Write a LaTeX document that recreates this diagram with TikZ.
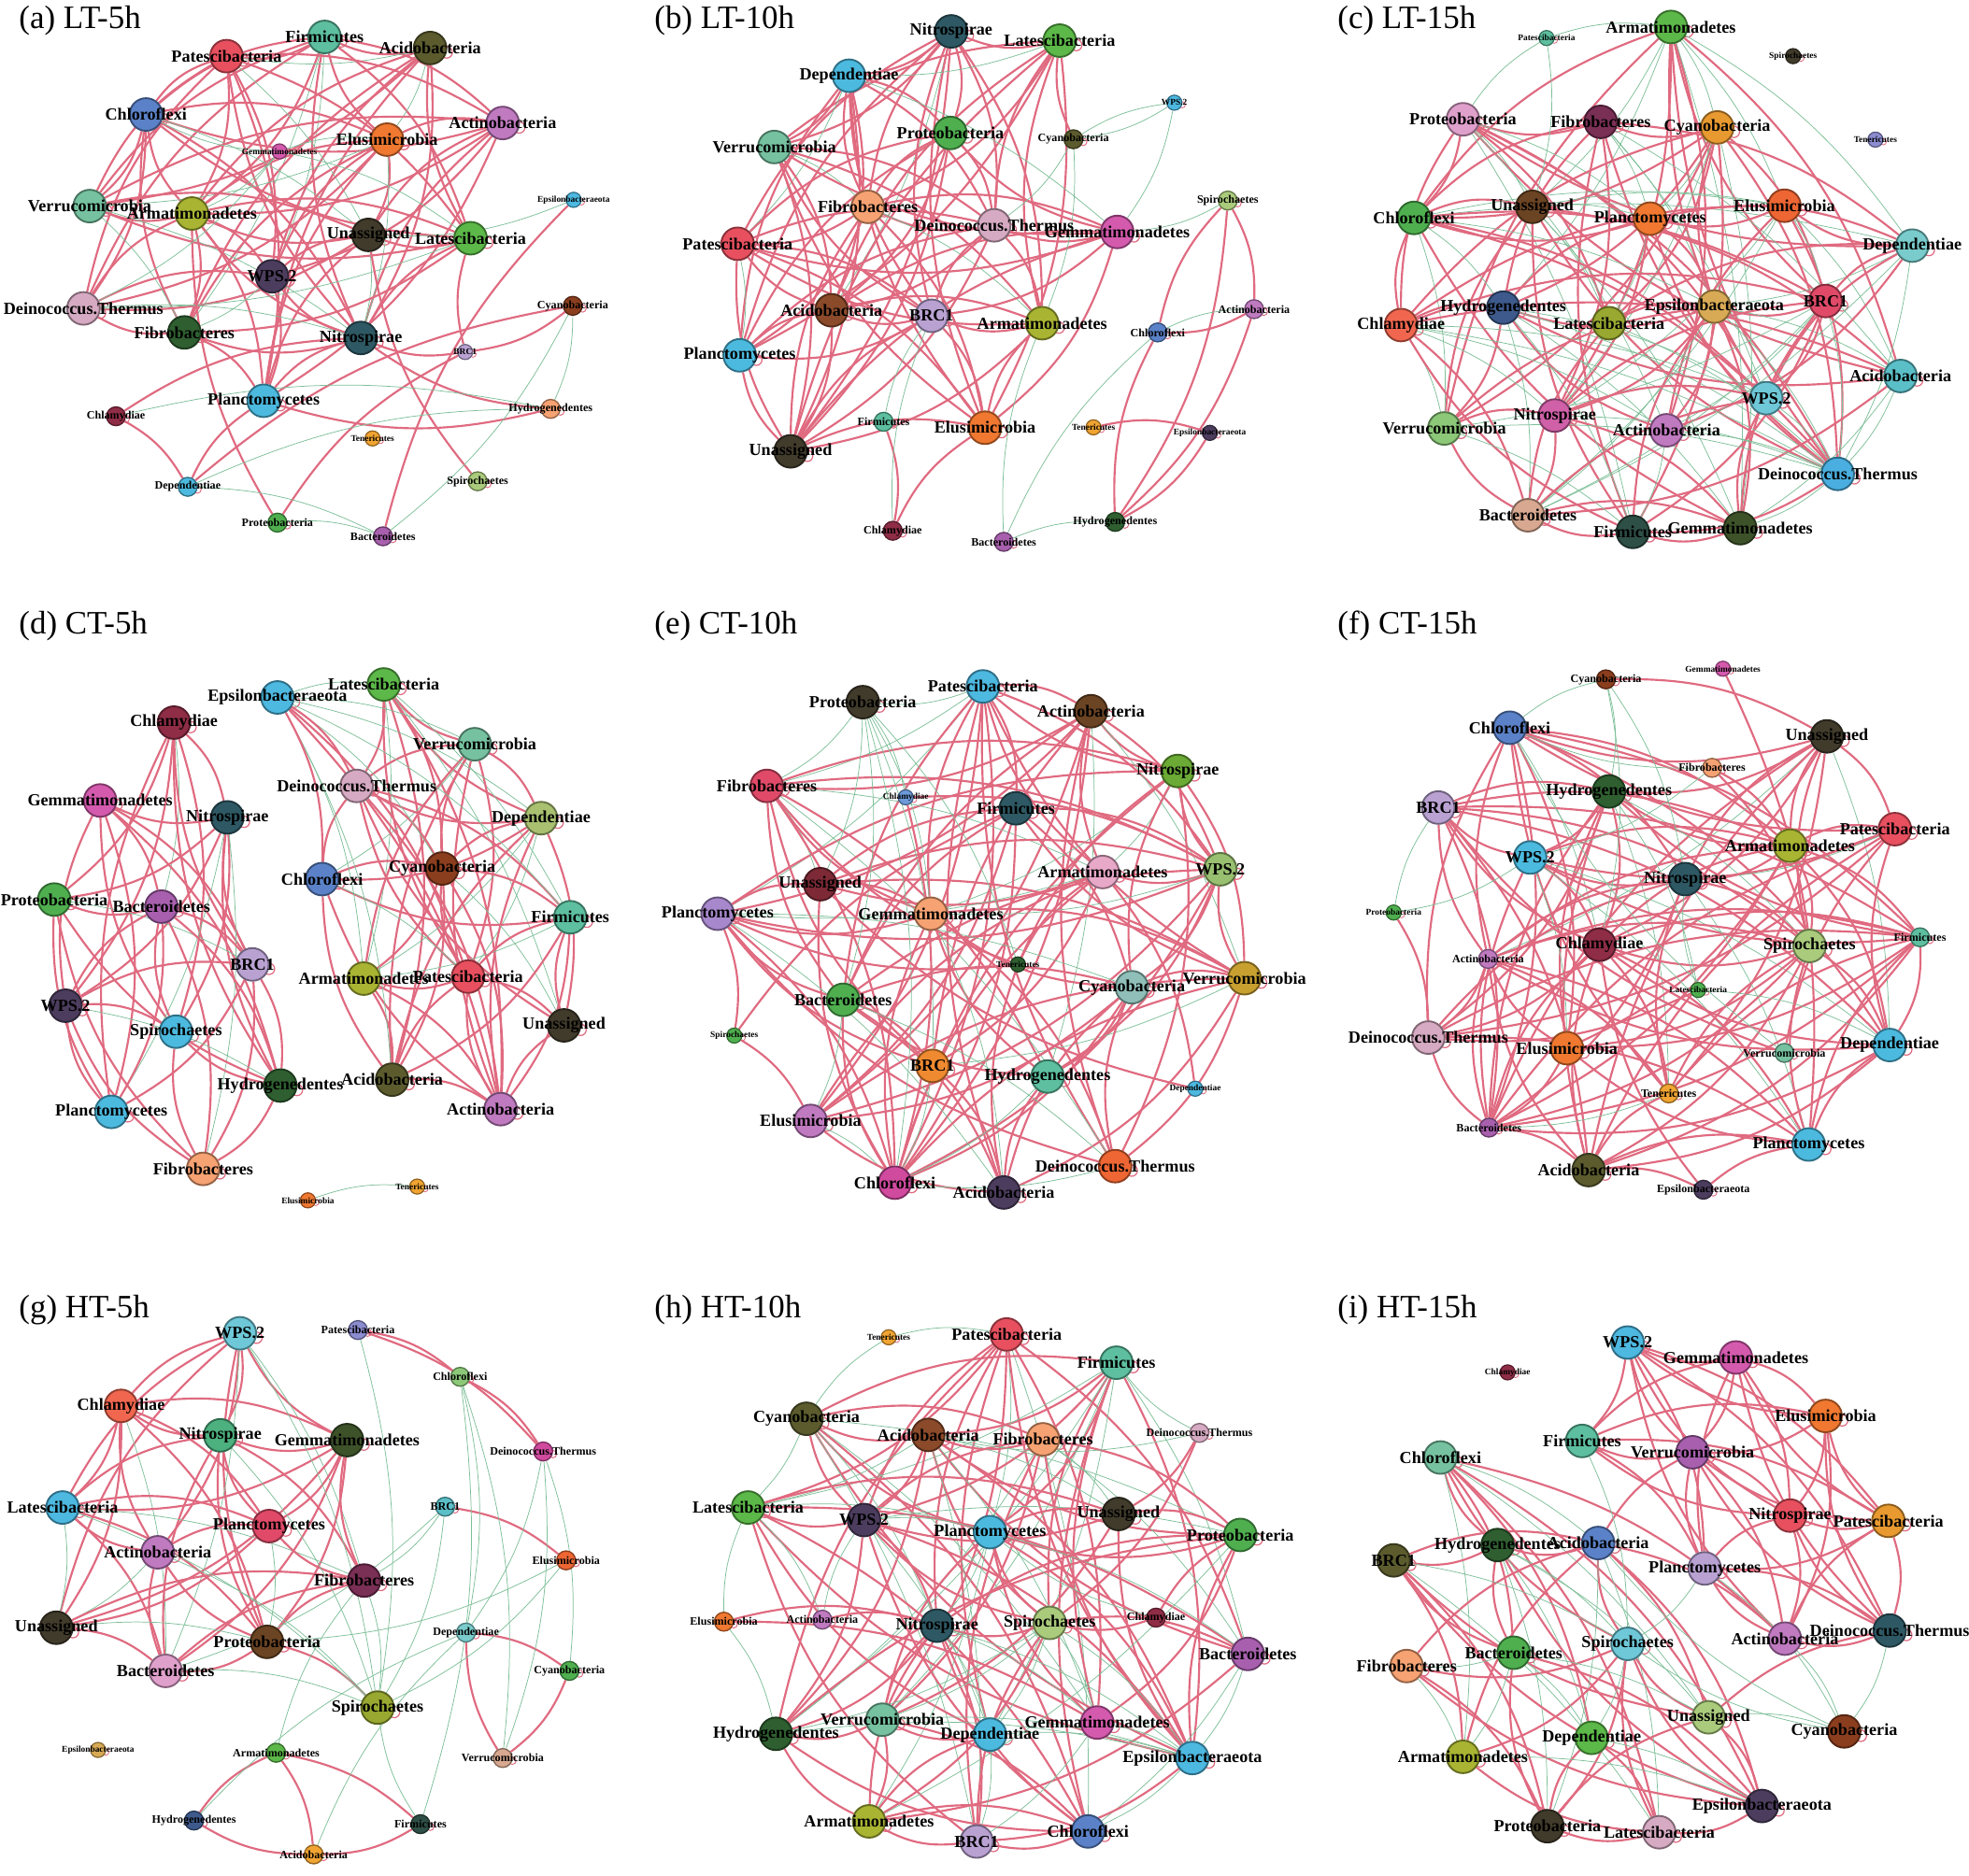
\documentclass[tikz,border=0pt]{standalone}
\usepackage{fontspec}
\setmainfont{Liberation Serif}
\pgfdeclarelayer{bg}\pgfdeclarelayer{edges}\pgfdeclarelayer{lbl}
\pgfsetlayers{bg,edges,main,lbl}
\definecolor{cRed}{HTML}{E8505F}
\definecolor{cTeal}{HTML}{5DBF9F}
\definecolor{cOliveD}{HTML}{5B5B2E}
\definecolor{cBlue}{HTML}{5B82C8}
\definecolor{cOrchid}{HTML}{C07AC0}
\definecolor{cOrange}{HTML}{F07830}
\definecolor{cMagenta}{HTML}{D45AAE}
\definecolor{cAqua}{HTML}{76C2A0}
\definecolor{cOliveY}{HTML}{A8B432}
\definecolor{cDBrown}{HTML}{413B2B}
\definecolor{cGreen}{HTML}{5CB848}
\definecolor{cDPurple}{HTML}{4C3D5E}
\definecolor{cSky}{HTML}{4DB8E0}
\definecolor{cPalePink}{HTML}{D6AAC2}
\definecolor{cDGreen}{HTML}{2F5F30}
\definecolor{cSlate}{HTML}{2E5964}
\definecolor{cBrown}{HTML}{8B3E1E}
\definecolor{cLav}{HTML}{B9A2D2}
\definecolor{cCyan}{HTML}{4CBADF}
\definecolor{cMaroon}{HTML}{8F2D46}
\definecolor{cPeach}{HTML}{F6A272}
\definecolor{cGold}{HTML}{F0A432}
\definecolor{cLGreen}{HTML}{AACB7C}
\definecolor{cPGreen}{HTML}{4FAF4F}
\definecolor{cPurple}{HTML}{A860AE}
\definecolor{cMBrown}{HTML}{8B4A2A}
\definecolor{cLavBlue}{HTML}{8C8CD0}
\definecolor{cPink}{HTML}{E0A0CC}
\definecolor{cWine}{HTML}{7A2F55}
\definecolor{cAmber}{HTML}{E89A30}
\definecolor{cChoc}{HTML}{6B4423}
\definecolor{cVerm}{HTML}{EE6633}
\definecolor{cTealL}{HTML}{7ACCCC}
\definecolor{cNavy}{HTML}{3E5A8C}
\definecolor{cTan}{HTML}{D8AA55}
\definecolor{cCrimson}{HTML}{E04A68}
\definecolor{cOliveG}{HTML}{98A830}
\definecolor{cTealB}{HTML}{5BBFC8}
\definecolor{cCyanL}{HTML}{6EC8D8}
\definecolor{cMagPink}{HTML}{D060A8}
\definecolor{cLtGreen}{HTML}{8CC878}
\definecolor{cSkyB}{HTML}{4AAFE0}
\definecolor{cTanPink}{HTML}{D8A890}
\definecolor{cDTeal}{HTML}{2E4F45}
\definecolor{cDOlive}{HTML}{3D5229}
\definecolor{cRedOr}{HTML}{F0664F}
\definecolor{cOlvGrn}{HTML}{A8C070}
\definecolor{cLeaf}{HTML}{6AAA35}
\definecolor{cCornf}{HTML}{6C9AD8}
\definecolor{cPinkL}{HTML}{E8A8C8}
\definecolor{cSage}{HTML}{98C070}
\definecolor{cWineR}{HTML}{7D2A36}
\definecolor{cLavP}{HTML}{A888CC}
\definecolor{cGoldD}{HTML}{C8A030}
\definecolor{cGreyT}{HTML}{8FBFB8}
\definecolor{cOrangeL}{HTML}{F08A30}
\definecolor{cDeepMag}{HTML}{D04A9E}
\definecolor{cJade}{HTML}{4DB07F}
\definecolor{cEdgeR}{HTML}{E06A80}
\definecolor{cEdgeG}{HTML}{7DBF98}
\tikzset{
 nA/.style={circle,minimum size=26pt,inner sep=0pt,line width=1.4pt},
 nB/.style={circle,minimum size=21pt,inner sep=0pt,line width=1.2pt},
 nC/.style={circle,minimum size=15pt,inner sep=0pt,line width=1pt},
 nD/.style={circle,minimum size=12pt,inner sep=0pt,line width=0.9pt},
 lA/.style={font=\fontsize{13.5}{13.5}\selectfont\bfseries,inner sep=0pt},
 lB/.style={font=\fontsize{11}{11}\selectfont\bfseries,inner sep=0pt},
 lC/.style={font=\fontsize{9}{9}\selectfont\bfseries,inner sep=0pt},
 lD/.style={font=\fontsize{7}{7}\selectfont\bfseries,inner sep=0pt},
 lpA/.style={circle,draw=cEdgeR,line width=0.9pt,minimum size=9pt,inner sep=0pt},
 lpB/.style={circle,draw=cEdgeR,line width=0.8pt,minimum size=7pt,inner sep=0pt},
 lpC/.style={circle,draw=cEdgeR,line width=0.7pt,minimum size=6pt,inner sep=0pt},
 lpD/.style={circle,draw=cEdgeR,line width=0.6pt,minimum size=5pt,inner sep=0pt},
 rE/.style={draw=cEdgeR,line width=1.6pt},
 gE/.style={draw=cEdgeG,line width=0.55pt},
 ttl/.style={font=\fontsize{26}{26}\selectfont,inner sep=0pt,anchor=base west},
}
\newcommand\setpanel[4]{\def\pox{#1}\def\poy{#2}\def\psx{#3}\def\psy{#4}}
\newcommand\mynd[6]{%
 \pgfmathsetmacro\nx{\pox+#2*\psx}\pgfmathsetmacro\ny{\poy+#3*\psy}%
 \node[n#4,fill=#5,draw=#5!60!black] (#1) at (\nx,\ny) {};%
 \begin{pgfonlayer}{edges}\node[lp#4] (#1l) at (#1.-15) {};\end{pgfonlayer}%
 \begin{pgfonlayer}{lbl}\node[l#4] (#1t) at (#1.center) {#6};\end{pgfonlayer}}
\newcommand\corenet[4]{%
 \foreach \i [count=\ci] in {#2}{%
  \foreach \j [count=\cj] in {#2}{%
   \ifnum\cj>\ci\relax
    \pgfmathtruncatemacro\hh{mod(\i*37+\j*61+\i*\j*7+\j*\j*3,100)}%
    \pgfmathtruncatemacro\pp{mod(\i+\j,2)}%
    \ifnum\hh<#3\relax\else
     \ifnum\hh<#4\relax
      \draw[gE] (#1\i) to[bend left=10] (#1\j);%
     \else
      \ifnum\pp=0\relax
       \draw[rE] (#1\i) to[bend left=17] (#1\j);%
      \else
       \draw[rE] (#1\i) to[bend right=17] (#1\j);%
      \fi
     \fi
    \fi
   \fi}}}
\newcommand\redx[2]{\foreach \p/\q in {#2}{\draw[rE] (#1\p) to[bend left=15] (#1\q);}}
\newcommand\grnx[2]{\foreach \p/\q in {#2}{\draw[gE] (#1\p) to[bend left=12] (#1\q);}}
\begin{document}
\begin{tikzpicture}[x=1pt,y=-1pt]
\begin{pgfonlayer}{bg}\fill[white] (0,0) rectangle (1568,1494);\end{pgfonlayer}
\path[use as bounding box] (0,0) rectangle (1568,1494);
\node[ttl] (tA) at (15,23) {(a) LT-5h};
\node[ttl] (tB) at (521,23) {(b) LT-10h};
\node[ttl] (tC) at (1065,23) {(c) LT-15h};
\node[ttl] (tD) at (15,505) {(d) CT-5h};
\node[ttl] (tE) at (521,505) {(e) CT-10h};
\node[ttl] (tF) at (1065,505) {(f) CT-15h};
\node[ttl] (tG) at (15,1050) {(g) HT-5h};
\node[ttl] (tH) at (521,1050) {(h) HT-10h};
\node[ttl] (tI) at (1065,1050) {(i) HT-15h};
% ---------------- (a)
\setpanel{0}{0}{0.3322}{0.2942}
\mynd{a1}{778}{100}{A}{cTeal}{Firmicutes}
\mynd{a2}{1031}{130}{A}{cOliveD}{Acidobacteria}
\mynd{a3}{543}{152}{A}{cRed}{Patescibacteria}
\mynd{a4}{350}{310}{A}{cBlue}{Chloroflexi}
\mynd{a5}{1205}{333}{A}{cOrchid}{Actinobacteria}
\mynd{a6}{928}{378}{A}{cOrange}{Elusimicrobia}
\mynd{a7}{670}{410}{D}{cMagenta}{Gemmatimonadetes}
\mynd{a8}{215}{558}{A}{cAqua}{Verrucomicrobia}
\mynd{a9}{460}{578}{A}{cOliveY}{Armatimonadetes}
\mynd{a10}{883}{636}{A}{cDBrown}{Unassigned}
\mynd{a11}{1128}{645}{A}{cGreen}{Latescibacteria}
\mynd{a12}{1375}{541}{D}{cSky}{Epsilonbacteraeota}
\mynd{a13}{652}{748}{A}{cDPurple}{WPS.2}
\mynd{a14}{200}{835}{A}{cPalePink}{Deinococcus.Thermus}
\mynd{a15}{442}{900}{A}{cDGreen}{Fibrobacteres}
\mynd{a16}{865}{915}{A}{cSlate}{Nitrospirae}
\mynd{a17}{1373}{828}{C}{cBrown}{Cyanobacteria}
\mynd{a18}{1115}{953}{D}{cLav}{BRC1}
\mynd{a19}{632}{1085}{A}{cCyan}{Planctomycetes}
\mynd{a20}{278}{1127}{C}{cMaroon}{Chlamydiae}
\mynd{a21}{1320}{1107}{C}{cPeach}{Hydrogenedentes}
\mynd{a22}{893}{1187}{D}{cGold}{Tenericutes}
\mynd{a23}{450}{1318}{C}{cCyan}{Dependentiae}
\mynd{a24}{1145}{1303}{C}{cLGreen}{Spirochaetes}
\mynd{a25}{665}{1415}{C}{cPGreen}{Proteobacteria}
\mynd{a26}{918}{1452}{C}{cPurple}{Bacteroidetes}
\begin{pgfonlayer}{edges}
\corenet{a}{1,2,3,4,5,6,8,9,10,11,13,14,15,16,19}{25}{40}
\redx{a}{20/16,20/23,23/17,25/18,25/9,26/12,24/10,21/16,21/19,18/16,18/11,17/18,23/19}
\grnx{a}{20/21,23/21,23/26,17/26,17/21,7/4,7/6,7/14,7/11,7/9,12/10,25/26}
\end{pgfonlayer}
% ---------------- (b)
\setpanel{506}{0}{0.3322}{0.2942}
\mynd{b1}{757}{85}{A}{cSlate}{Nitrospirae}
\mynd{b2}{1017}{110}{A}{cGreen}{Latescibacteria}
\mynd{b3}{512}{205}{A}{cCyan}{Dependentiae}
\mynd{b4}{1292}{278}{D}{cSky}{WPS.2}
\mynd{b5}{755}{360}{A}{cPGreen}{Proteobacteria}
\mynd{b6}{1050}{377}{C}{cOliveD}{Cyanobacteria}
\mynd{b7}{333}{398}{A}{cAqua}{Verrucomicrobia}
\mynd{b8}{557}{560}{A}{cPeach}{Fibrobacteres}
\mynd{b9}{860}{610}{A}{cPalePink}{Deinococcus.Thermus}
\mynd{b10}{1155}{628}{A}{cMagenta}{Gemmatimonadetes}
\mynd{b11}{1420}{543}{C}{cLGreen}{Spirochaetes}
\mynd{b12}{245}{660}{A}{cRed}{Patescibacteria}
\mynd{b13}{470}{840}{A}{cMBrown}{Acidobacteria}
\mynd{b14}{710}{855}{A}{cLav}{BRC1}
\mynd{b15}{975}{875}{A}{cOliveY}{Armatimonadetes}
\mynd{b16}{1483}{837}{C}{cOrchid}{Actinobacteria}
\mynd{b17}{1252}{900}{C}{cBlue}{Chloroflexi}
\mynd{b18}{250}{962}{A}{cCyan}{Planctomycetes}
\mynd{b19}{595}{1142}{C}{cTeal}{Firmicutes}
\mynd{b20}{838}{1158}{A}{cOrange}{Elusimicrobia}
\mynd{b21}{1098}{1157}{D}{cGold}{Tenericutes}
\mynd{b22}{1377}{1172}{D}{cDPurple}{Epsilonbacteraeota}
\mynd{b23}{372}{1222}{A}{cDBrown}{Unassigned}
\mynd{b24}{617}{1437}{C}{cMaroon}{Chlamydiae}
\mynd{b25}{883}{1467}{C}{cPurple}{Bacteroidetes}
\mynd{b26}{1150}{1413}{C}{cDGreen}{Hydrogenedentes}
\begin{pgfonlayer}{edges}
\corenet{b}{1,2,3,5,7,8,9,10,12,13,14,15,18,20,23}{25}{32}
\redx{b}{11/16,17/11,16/17,16/26,26/17,11/26,21/22,22/26,19/24,24/20,6/2}
\grnx{b}{4/6,6/4,4/10,6/9,6/15,19/14,24/14,25/15,25/17,25/26,11/10,17/16}
\end{pgfonlayer}
% ---------------- (c)
\setpanel{1027}{0}{0.3450}{0.2942}
\mynd{c1}{593}{103}{D}{cTeal}{Patescibacteria}
\mynd{c2}{880}{73}{A}{cGreen}{Armatimonadetes}
\mynd{c3}{1162}{152}{D}{cDBrown}{Spirochaetes}
\mynd{c4}{1352}{378}{D}{cLavBlue}{Tenericutes}
\mynd{c5}{400}{323}{A}{cPink}{Proteobacteria}
\mynd{c6}{718}{330}{A}{cWine}{Fibrobacteres}
\mynd{c7}{987}{345}{A}{cAmber}{Cyanobacteria}
\mynd{c8}{560}{560}{A}{cChoc}{Unassigned}
\mynd{c9}{287}{590}{A}{cPGreen}{Chloroflexi}
\mynd{c10}{832}{592}{A}{cOrange}{Planctomycetes}
\mynd{c11}{1142}{557}{A}{cVerm}{Elusimicrobia}
\mynd{c12}{1437}{665}{A}{cTealL}{Dependentiae}
\mynd{c13}{493}{833}{A}{cNavy}{Hydrogenedentes}
\mynd{c14}{980}{830}{A}{cTan}{Epsilonbacteraeota}
\mynd{c15}{1237}{815}{A}{cCrimson}{BRC1}
\mynd{c16}{257}{880}{A}{cRedOr}{Chlamydiae}
\mynd{c17}{737}{875}{A}{cOliveG}{Latescibacteria}
\mynd{c18}{1410}{1018}{A}{cTealB}{Acidobacteria}
\mynd{c19}{1100}{1078}{A}{cCyanL}{WPS.2}
\mynd{c20}{612}{1125}{A}{cMagPink}{Nitrospirae}
\mynd{c21}{357}{1160}{A}{cLtGreen}{Verrucomicrobia}
\mynd{c22}{870}{1165}{A}{cOrchid}{Actinobacteria}
\mynd{c23}{1265}{1283}{A}{cSkyB}{Deinococcus.Thermus}
\mynd{c24}{550}{1395}{A}{cTanPink}{Bacteroidetes}
\mynd{c25}{792}{1440}{A}{cDTeal}{Firmicutes}
\mynd{c26}{1040}{1430}{A}{cDOlive}{Gemmatimonadetes}
\begin{pgfonlayer}{edges}
\corenet{c}{2,5,6,7,8,9,10,11,12,13,14,15,16,17,18,19,20,21,22,23,24,25,26}{45}{68}
\grnx{c}{5/1,1/2,2/12,1/8}
\end{pgfonlayer}
% ---------------- (d)
\setpanel{0}{476.3}{0.3322}{0.3132}
\mynd{d1}{920}{220}{A}{cGreen}{Latescibacteria}
\mynd{d2}{665}{253}{A}{cSky}{Epsilonbacteraeota}
\mynd{d3}{417}{317}{A}{cMaroon}{Chlamydiae}
\mynd{d4}{1138}{372}{A}{cAqua}{Verrucomicrobia}
\mynd{d5}{855}{478}{A}{cPalePink}{Deinococcus.Thermus}
\mynd{d6}{240}{515}{A}{cMagenta}{Gemmatimonadetes}
\mynd{d7}{545}{558}{A}{cSlate}{Nitrospirae}
\mynd{d8}{1297}{560}{A}{cOlvGrn}{Dependentiae}
\mynd{d9}{1060}{688}{A}{cBrown}{Cyanobacteria}
\mynd{d10}{772}{715}{A}{cBlue}{Chloroflexi}
\mynd{d11}{130}{767}{A}{cPGreen}{Proteobacteria}
\mynd{d12}{387}{785}{A}{cPurple}{Bacteroidetes}
\mynd{d13}{1367}{812}{A}{cTeal}{Firmicutes}
\mynd{d14}{605}{932}{A}{cLav}{BRC1}
\mynd{d15}{872}{968}{A}{cOliveY}{Armatimonadetes}
\mynd{d16}{1122}{963}{A}{cRed}{Patescibacteria}
\mynd{d17}{157}{1037}{A}{cDPurple}{WPS.2}
\mynd{d18}{1352}{1087}{A}{cDBrown}{Unassigned}
\mynd{d19}{422}{1103}{A}{cCyan}{Spirochaetes}
\mynd{d20}{672}{1240}{A}{cDGreen}{Hydrogenedentes}
\mynd{d21}{940}{1225}{A}{cOliveD}{Acidobacteria}
\mynd{d22}{267}{1307}{A}{cCyan}{Planctomycetes}
\mynd{d23}{1200}{1300}{A}{cOrchid}{Actinobacteria}
\mynd{d24}{487}{1452}{A}{cPeach}{Fibrobacteres}
\mynd{d25}{738}{1532}{D}{cOrange}{Elusimicrobia}
\mynd{d26}{1000}{1497}{D}{cGold}{Tenericutes}
\begin{pgfonlayer}{edges}
\corenet{d}{3,6,7,11,12,14,17,19,20,22,24}{25}{32}
\corenet{d}{1,4,5,8,9,10,13,15,16,18,21,23}{25}{40}
\grnx{d}{2/1,2/4,2/8,2/13,2/21,2/9,2/15,25/26}
\redx{d}{2/5,2/16,2/23,2/10}
\end{pgfonlayer}
% ---------------- (e)
\setpanel{506}{476.3}{0.3322}{0.3132}
\mynd{e1}{833}{225}{A}{cSky}{Patescibacteria}
\mynd{e2}{545}{265}{A}{cDBrown}{Proteobacteria}
\mynd{e3}{1092}{288}{A}{cChoc}{Actinobacteria}
\mynd{e4}{1300}{440}{A}{cLeaf}{Nitrospirae}
\mynd{e5}{315}{478}{A}{cCrimson}{Fibrobacteres}
\mynd{e6}{648}{507}{D}{cCornf}{Chlamydiae}
\mynd{e7}{912}{535}{A}{cSlate}{Firmicutes}
\mynd{e8}{1120}{697}{A}{cPinkL}{Armatimonadetes}
\mynd{e9}{1402}{690}{A}{cSage}{WPS.2}
\mynd{e10}{443}{728}{A}{cWineR}{Unassigned}
\mynd{e11}{197}{803}{A}{cLavP}{Planctomycetes}
\mynd{e12}{708}{803}{A}{cPeach}{Gemmatimonadetes}
\mynd{e13}{917}{932}{D}{cDGreen}{Tenericutes}
\mynd{e14}{1460}{967}{A}{cGoldD}{Verrucomicrobia}
\mynd{e15}{1190}{990}{A}{cGreyT}{Cyanobacteria}
\mynd{e16}{498}{1022}{A}{cPGreen}{Bacteroidetes}
\mynd{e17}{237}{1113}{D}{cPGreen}{Spirochaetes}
\mynd{e18}{712}{1190}{A}{cOrangeL}{BRC1}
\mynd{e19}{988}{1217}{A}{cTeal}{Hydrogenedentes}
\mynd{e20}{1342}{1248}{D}{cSky}{Dependentiae}
\mynd{e21}{420}{1330}{A}{cOrchid}{Elusimicrobia}
\mynd{e22}{1150}{1445}{A}{cVerm}{Deinococcus.Thermus}
\mynd{e23}{622}{1487}{A}{cDeepMag}{Chloroflexi}
\mynd{e24}{883}{1512}{A}{cDPurple}{Acidobacteria}
\begin{pgfonlayer}{edges}
\corenet{e}{1,3,4,5,7,8,9,10,11,12,14,15,16,18,19,21,22,23,24}{45}{55}
\grnx{e}{2/10,2/6,2/13,2/18,2/23,1/2,2/12,2/16,2/5}
\redx{e}{13/11,13/5,13/8,13/4,24/13,17/7,17/21,11/17,20/10,8/20,6/9,6/23}
\end{pgfonlayer}
% ---------------- (f)
\setpanel{1027}{476.3}{0.3450}{0.3132}
\mynd{f1}{1000}{180}{D}{cMagenta}{Gemmatimonadetes}
\mynd{f2}{730}{207}{C}{cBrown}{Cyanobacteria}
\mynd{f3}{508}{330}{A}{cBlue}{Chloroflexi}
\mynd{f4}{1240}{352}{A}{cDBrown}{Unassigned}
\mynd{f5}{975}{432}{C}{cPeach}{Fibrobacteres}
\mynd{f6}{737}{492}{A}{cDGreen}{Hydrogenedentes}
\mynd{f7}{343}{533}{A}{cLav}{BRC1}
\mynd{f8}{1397}{588}{A}{cRed}{Patescibacteria}
\mynd{f9}{1155}{630}{A}{cOliveY}{Armatimonadetes}
\mynd{f10}{555}{660}{A}{cCyan}{WPS.2}
\mynd{f11}{913}{715}{A}{cSlate}{Nitrospirae}
\mynd{f12}{240}{800}{D}{cPGreen}{Proteobacteria}
\mynd{f13}{1455}{863}{C}{cTeal}{Firmicutes}
\mynd{f14}{715}{882}{A}{cMaroon}{Chlamydiae}
\mynd{f15}{1200}{885}{A}{cLGreen}{Spirochaetes}
\mynd{f16}{458}{918}{C}{cOrchid}{Actinobacteria}
\mynd{f17}{943}{997}{D}{cPGreen}{Latescibacteria}
\mynd{f18}{320}{1118}{A}{cPalePink}{Deinococcus.Thermus}
\mynd{f19}{640}{1145}{A}{cOrange}{Elusimicrobia}
\mynd{f20}{1142}{1157}{C}{cAqua}{Verrucomicrobia}
\mynd{f21}{1385}{1137}{A}{cCyan}{Dependentiae}
\mynd{f22}{875}{1260}{C}{cGold}{Tenericutes}
\mynd{f23}{460}{1347}{C}{cPurple}{Bacteroidetes}
\mynd{f24}{1198}{1390}{A}{cCyan}{Planctomycetes}
\mynd{f25}{690}{1455}{A}{cOliveD}{Acidobacteria}
\mynd{f26}{955}{1505}{C}{cDPurple}{Epsilonbacteraeota}
\begin{pgfonlayer}{edges}
\corenet{f}{3,4,6,7,8,9,10,11,13,14,15,16,18,19,21,22,23,24,25}{40}{48}
\grnx{f}{3/2,2/6,2/11,2/14,12/7,10/12,17/11,17/21,6/17,20/3,5/3,5/10}
\redx{f}{1/24,2/4,26/24,25/26,26/14,5/15,5/9,17/18,20/7,20/8,12/18}
\end{pgfonlayer}
% ---------------- (g)
\setpanel{0}{989.7}{0.3322}{0.3213}
\mynd{g1}{575}{225}{A}{cCyanL}{WPS.2}
\mynd{g2}{858}{217}{C}{cLavBlue}{Patescibacteria}
\mynd{g3}{1103}{333}{C}{cLtGreen}{Chloroflexi}
\mynd{g4}{290}{405}{A}{cRedOr}{Chlamydiae}
\mynd{g5}{528}{478}{A}{cJade}{Nitrospirae}
\mynd{g6}{832}{490}{A}{cDOlive}{Gemmatimonadetes}
\mynd{g7}{1302}{518}{C}{cDeepMag}{Deinococcus.Thermus}
\mynd{g8}{150}{657}{A}{cSky}{Latescibacteria}
\mynd{g9}{1067}{655}{C}{cTealB}{BRC1}
\mynd{g10}{645}{703}{A}{cCrimson}{Planctomycetes}
\mynd{g11}{378}{768}{A}{cOrchid}{Actinobacteria}
\mynd{g12}{1357}{788}{C}{cVerm}{Elusimicrobia}
\mynd{g13}{873}{838}{A}{cWine}{Fibrobacteres}
\mynd{g14}{135}{955}{A}{cDBrown}{Unassigned}
\mynd{g15}{1117}{967}{C}{cTealL}{Dependentiae}
\mynd{g16}{640}{990}{A}{cChoc}{Proteobacteria}
\mynd{g17}{1365}{1062}{C}{cPGreen}{Cyanobacteria}
\mynd{g18}{397}{1062}{A}{cPink}{Bacteroidetes}
\mynd{g19}{905}{1153}{A}{cOliveG}{Spirochaetes}
\mynd{g20}{235}{1258}{D}{cTan}{Epsilonbacteraeota}
\mynd{g21}{662}{1265}{C}{cGreen}{Armatimonadetes}
\mynd{g22}{1205}{1278}{C}{cTanPink}{Verrucomicrobia}
\mynd{g23}{465}{1433}{C}{cNavy}{Hydrogenedentes}
\mynd{g24}{1008}{1442}{C}{cDTeal}{Firmicutes}
\mynd{g25}{752}{1517}{C}{cGold}{Acidobacteria}
\begin{pgfonlayer}{edges}
\corenet{g}{1,4,5,6,8,10,11,13,14,16,18}{20}{35}
\redx{g}{2/7,2/3,3/7,9/12,15/17,22/15,17/22,23/21,21/25,21/24,25/23,24/25,16/19}
\grnx{g}{2/19,3/15,3/22,7/15,7/17,9/19,9/13,9/18,12/16,12/19,13/19,21/13,23/15,25/15,24/19,1/19,8/19,11/19,18/19,5/19,3/24,7/22}
\end{pgfonlayer}
% ---------------- (h)
\setpanel{506}{989.7}{0.3322}{0.3213}
\mynd{h1}{607}{235}{D}{cGold}{Tenericutes}
\mynd{h2}{890}{228}{A}{cRed}{Patescibacteria}
\mynd{h3}{1153}{298}{A}{cTeal}{Firmicutes}
\mynd{h4}{410}{437}{A}{cOliveD}{Cyanobacteria}
\mynd{h5}{702}{477}{A}{cMBrown}{Acidobacteria}
\mynd{h6}{977}{488}{A}{cPeach}{Fibrobacteres}
\mynd{h7}{1352}{472}{C}{cPalePink}{Deinococcus.Thermus}
\mynd{h8}{270}{657}{A}{cGreen}{Latescibacteria}
\mynd{h9}{548}{688}{A}{cDPurple}{WPS.2}
\mynd{h10}{1158}{673}{A}{cDBrown}{Unassigned}
\mynd{h11}{850}{718}{A}{cCyan}{Planctomycetes}
\mynd{h12}{1450}{725}{A}{cPGreen}{Proteobacteria}
\mynd{h13}{212}{940}{C}{cOrange}{Elusimicrobia}
\mynd{h14}{448}{935}{C}{cOrchid}{Actinobacteria}
\mynd{h15}{723}{950}{A}{cSlate}{Nitrospirae}
\mynd{h16}{993}{943}{A}{cLGreen}{Spirochaetes}
\mynd{h17}{1248}{930}{C}{cMaroon}{Chlamydiae}
\mynd{h18}{1468}{1020}{A}{cPurple}{Bacteroidetes}
\mynd{h19}{337}{1218}{A}{cDGreen}{Hydrogenedentes}
\mynd{h20}{592}{1183}{A}{cAqua}{Verrucomicrobia}
\mynd{h21}{850}{1220}{A}{cCyan}{Dependentiae}
\mynd{h22}{1107}{1190}{A}{cMagenta}{Gemmatimonadetes}
\mynd{h23}{1335}{1278}{A}{cSky}{Epsilonbacteraeota}
\mynd{h24}{560}{1435}{A}{cOliveY}{Armatimonadetes}
\mynd{h25}{818}{1485}{A}{cLav}{BRC1}
\mynd{h26}{1085}{1460}{A}{cBlue}{Chloroflexi}
\begin{pgfonlayer}{edges}
\corenet{h}{2,3,4,5,6,8,9,10,11,12,15,16,18,19,20,21,22,23,24,25,26}{45}{65}
\grnx{h}{1/2,4/1,13/8,14/9,8/14,17/11,7/5,7/3,13/19}
\redx{h}{13/15,13/22,7/10,7/16,17/16,17/12,14/15}
\end{pgfonlayer}
% ---------------- (i)
\setpanel{1027}{989.7}{0.3450}{0.3213}
\mynd{i1}{780}{248}{A}{cSky}{WPS.2}
\mynd{i2}{1030}{285}{A}{cMagenta}{Gemmatimonadetes}
\mynd{i3}{503}{322}{D}{cMaroon}{Chlamydiae}
\mynd{i4}{1237}{430}{A}{cOrange}{Elusimicrobia}
\mynd{i5}{675}{492}{A}{cTeal}{Firmicutes}
\mynd{i6}{930}{520}{A}{cPurple}{Verrucomicrobia}
\mynd{i7}{348}{533}{A}{cAqua}{Chloroflexi}
\mynd{i8}{1155}{677}{A}{cRed}{Nitrospirae}
\mynd{i9}{1382}{690}{A}{cAmber}{Patescibacteria}
\mynd{i10}{480}{750}{A}{cDGreen}{Hydrogenedentes}
\mynd{i11}{712}{745}{A}{cBlue}{Acidobacteria}
\mynd{i12}{240}{788}{A}{cOliveD}{BRC1}
\mynd{i13}{958}{808}{A}{cLav}{Planctomycetes}
\mynd{i14}{1143}{982}{A}{cOrchid}{Actinobacteria}
\mynd{i15}{1385}{962}{A}{cSlate}{Deinococcus.Thermus}
\mynd{i16}{780}{995}{A}{cCyanL}{Spirochaetes}
\mynd{i17}{517}{1017}{A}{cPGreen}{Bacteroidetes}
\mynd{i18}{270}{1050}{A}{cPeach}{Fibrobacteres}
\mynd{i19}{967}{1177}{A}{cLGreen}{Unassigned}
\mynd{i20}{1280}{1212}{A}{cBrown}{Cyanobacteria}
\mynd{i21}{697}{1228}{A}{cGreen}{Dependentiae}
\mynd{i22}{400}{1275}{A}{cOliveY}{Armatimonadetes}
\mynd{i23}{1090}{1397}{A}{cDPurple}{Epsilonbacteraeota}
\mynd{i24}{595}{1447}{A}{cDBrown}{Proteobacteria}
\mynd{i25}{853}{1462}{A}{cPalePink}{Latescibacteria}
\begin{pgfonlayer}{edges}
\corenet{i}{1,2,4,5,6,8,9,13,14,15}{20}{20}
\corenet{i}{7,10,11,12,16,17,18,19,21,22,23,24,25}{30}{50}
\redx{i}{7/14,11/14,11/6,19/15,11/19}
\grnx{i}{13/20,14/20,15/20,20/16,20/11,19/20,5/16,13/16}
\end{pgfonlayer}
\end{tikzpicture}
\end{document}
